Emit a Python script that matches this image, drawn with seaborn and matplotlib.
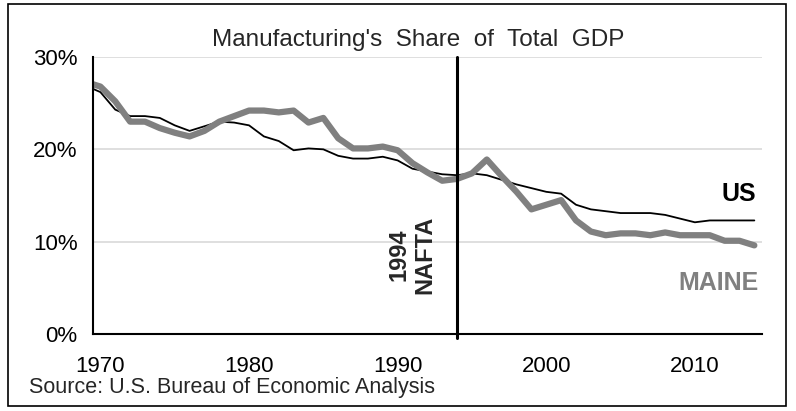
import matplotlib
matplotlib.use('Agg')
import matplotlib.pyplot as plt
import matplotlib.ticker as mtick
from matplotlib.patches import Rectangle
import seaborn as sns
import pandas as pd

# Manufacturing share of GDP (%)
years = list(range(1969, 2015))
us_share = [26.9, 26.2, 24.3, 23.6, 23.6, 23.4, 22.6, 22.0, 22.5, 23.0,
            22.9, 22.6, 21.4, 20.9, 19.9, 20.1, 20.0, 19.3, 19.0, 19.0,
            19.2, 18.8, 17.9, 17.6, 17.3, 17.2, 17.4, 17.2, 16.7, 16.2,
            15.8, 15.4, 15.2, 14.0, 13.5, 13.3, 13.1, 13.1, 13.1, 12.9,
            12.5, 12.1, 12.3, 12.3, 12.3, 12.3]
maine_share = [27.3, 26.8, 25.2, 23.0, 23.0, 22.3, 21.8, 21.4, 22.0, 23.0,
               23.6, 24.2, 24.2, 24.0, 24.2, 22.9, 23.4, 21.2, 20.1, 20.1,
               20.3, 19.9, 18.5, 17.5, 16.6, 16.8, 17.4, 18.9, 17.1, 15.4,
               13.5, 14.0, 14.5, 12.3, 11.1, 10.7, 10.9, 10.9, 10.7, 11.0,
               10.7, 10.7, 10.7, 10.1, 10.1, 9.6]
year_ticks = [1970, 1980, 1990, 2000, 2010]
nafta_year = 1994

df = pd.DataFrame({'year': years,
                   'US': [v / 100 for v in us_share],
                   'Maine': [v / 100 for v in maine_share]})

sns.set_style('white')
plt.rcParams['font.family'] = ['Liberation Sans', 'DejaVu Sans']

fig = plt.figure(figsize=(7.96, 4.11), dpi=100)
ax = fig.add_axes([0.1168, 0.1873, 0.957 - 0.1168, 0.8613 - 0.1873])

gray = '#808080'
sns.lineplot(data=df, x='year', y='US', ax=ax, color='black', linewidth=1.3)
sns.lineplot(data=df, x='year', y='Maine', ax=ax, color=gray, linewidth=4.5)

ax.axvline(nafta_year, ymin=-0.015, ymax=1, color='black', linewidth=2.2,
           clip_on=False, zorder=5)

ax.set_xlim(1969.5, 2014.5)
ax.set_ylim(0, 0.30)
ax.set_xticks(year_ticks)
ax.set_yticks([0, 0.10, 0.20, 0.30])
ax.yaxis.set_major_formatter(mtick.PercentFormatter(1.0, decimals=0))
ax.tick_params(axis='both', length=0, labelsize=16, colors='black')
ax.tick_params(axis='x', pad=16)
ax.tick_params(axis='y', pad=11)
ax.set_xlabel('')
ax.set_ylabel('')
ax.grid(axis='y', color='#d9d9d9', linewidth=1.2)
ax.set_axisbelow(True)
for side in ['top', 'right']:
    ax.spines[side].set_visible(False)
for side in ['left', 'bottom']:
    ax.spines[side].set_color('black')
    ax.spines[side].set_linewidth(1.5)

ax.text(nafta_year - 1.4, 0.086, '1994\nNAFTA', rotation=90, ha='right',
        va='center', fontsize=17, fontweight='bold', multialignment='center',
        linespacing=1.15)
ax.text(2014.1, 0.152, 'US', ha='right', va='center', fontsize=18,
        fontweight='bold', color='black')
ax.text(2014.3, 0.055, 'MAINE', ha='right', va='center', fontsize=18,
        fontweight='bold', color=gray)

fig.text(0.525, 0.902, "Manufacturing's  Share  of  Total  GDP", ha='center',
         va='center', fontsize=17.5)
fig.text(0.036, 0.058, 'Source: U.S. Bureau of Economic Analysis',
         ha='left', va='center', fontsize=15.5)

fig.patches.append(Rectangle((0.01, 0.012), 0.978, 0.978, transform=fig.transFigure,
                             fill=False, edgecolor='black', linewidth=1.2))

fig.savefig('out.png', dpi=100)
